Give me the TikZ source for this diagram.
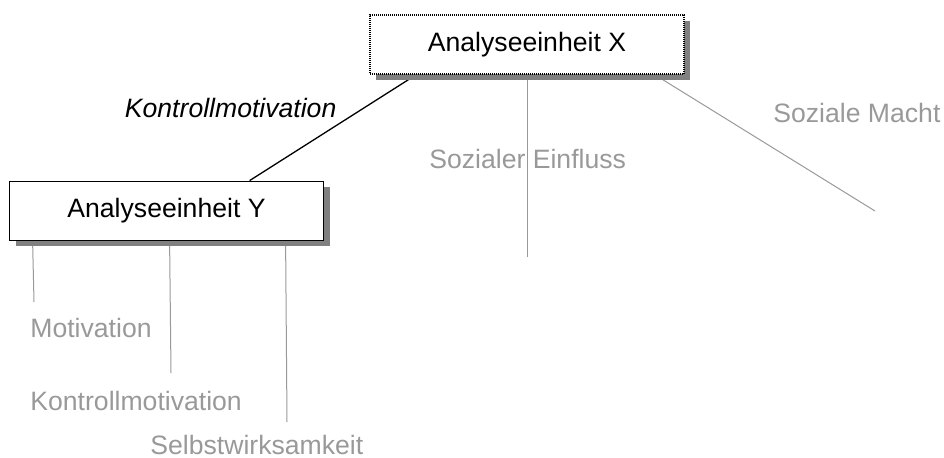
\documentclass[tikz,border=0pt]{standalone}
\usepackage{fontspec}
\setmainfont{Liberation Sans}
\usetikzlibrary{positioning,calc,shadows,backgrounds}
\definecolor{labelgray}{HTML}{999999}
\definecolor{shadowgray}{HTML}{808080}

\begin{document}
\begin{tikzpicture}[x=0.5pt,y=-0.5pt,font=\fontsize{13.3}{16}\selectfont,
  unitbox/.style={draw,fill=white,minimum width=157pt,minimum height=29.5pt,inner sep=0pt,
   drop shadow={shadow xshift=3pt,shadow yshift=-2.75pt,fill=shadowgray,opacity=1}},
  sublabel/.style={text=labelgray,inner sep=0pt,anchor=base west},
  branch/.style={draw=labelgray,line width=0.5pt}]
 \useasboundingbox (0,0) rectangle (944,457);
 \node[unitbox,dash pattern=on 0.5pt off 0.5pt,line width=0.6pt] (x) at (527,44.5) {Analyseeinheit X};
 \node[unitbox,line width=0.9pt] (y) at (166.5,211) {Analyseeinheit Y};
 % gray labels
 \node[sublabel] (einfluss) at (429,168) {Sozialer Einfluss};
 \node[sublabel] (macht) at (773,122) {Soziale Macht};
 \node[sublabel] (motiv) at (30,337) {Motivation};
 \node[sublabel] (kontrolle) at (30,410) {Kontrollmotivation};
 \node[sublabel] (selbst) at (150,454) {Selbstwirksamkeit};
 \coordinate (einfluss-end) at (527,257);
 \coordinate (macht-end) at (875,211);
 \coordinate (motiv-end) at (34,302);
 \coordinate (kontrolle-end) at (171,373);
 \coordinate (selbst-end) at (287,422);
 \begin{scope}[on background layer]
  \draw[line width=0.65pt] ($(x.south west)+(47,0)$) -- node[pos=0.5,anchor=base east,inner sep=0pt,xshift=2pt,yshift=5.25pt] {\itshape Kontrollmotivation} ($(y.north west)+(241,0)$);
  \draw[branch] (x.south) -- (einfluss-end);
  \draw[branch] ($(x.south east)+(-30,0)$) -- (macht-end);
  \draw[branch] ($(y.south west)+(24,0)$) -- (motiv-end);
  \draw[branch] ($(y.south west)+(161,0)$) -- (kontrolle-end);
  \draw[branch] ($(y.south west)+(277,0)$) -- (selbst-end);
 \end{scope}
\end{tikzpicture}
\end{document}
